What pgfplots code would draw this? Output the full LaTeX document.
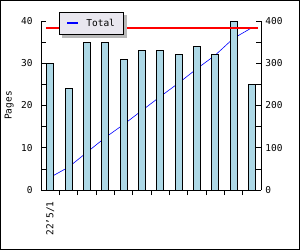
\documentclass[border=0pt]{standalone}
\usepackage{pgfplots}
\pgfplotsset{compat=1.18}
\usepackage{fontspec}
\setmainfont{DejaVu Sans Mono}
\definecolor{barfill}{HTML}{ADD8E6}
\definecolor{legfill}{HTML}{E9E7EF}
\definecolor{gridc}{HTML}{DDDDDD}
\pgfplotstableread{
x pages total
0 30 30
1 24 54
2 35 89
3 35 124
4 31 155
5 33 188
6 33 221
7 32 253
8 34 287
9 32 319
10 40 359
11 25 384
}\datatable
\newcommand{\legline}{\textcolor{blue}{\rule[0.28em]{11pt}{1.8pt}}\hspace{8pt}}
\begin{document}
\fontsize{9.5}{11}\selectfont
\begin{tikzpicture}[x=1pt,y=1pt]
\fill[white] (0,0) rectangle (300,250);
\useasboundingbox (0,0) rectangle (300,250);
\pgfplotsset{
  every axis/.style={
    scale only axis, width=220pt, height=169pt,
    at={(41pt,60pt)}, anchor=south west,
    xmin=-0.5, xmax=11.5,
    tick style={black, line width=0.6pt},
    tick align=inside,
    /pgf/number format/assume math mode=true,
    tick label style={font=\fontsize{9.5}{11}\selectfont},
  },
  mylegend/.style={
    legend style={at={(axis description cs:0.0818,1.0515)}, anchor=north west,
      inner xsep=6pt, inner ysep=4.5pt,
      font=\fontsize{9.5}{11}\selectfont},
    legend cell align=left,
    legend image code/.code={},
  },
}
% Axis 1: right scale, grid and blue line (behind bars)
\begin{axis}[
  ymin=0, ymax=400,
  axis lines=none,
  ytick={100,200,300,400},
  ymajorgrids, grid style={gridc, line width=0.6pt},
  xtick=\empty,
  clip=false,
]
\addplot[blue, line width=0.6pt, mark=none] table[x=x, y=total] {\datatable};
\end{axis}
% Axis 2: left scale, bars
\begin{axis}[
  ymin=0, ymax=40,
  axis x line*=bottom, axis y line*=left,
  axis line style={black, line width=0.7pt, -},
  ytick={0,10,20,30,40},
  minor ytick={5,15,25,35},
  minor tick length=5pt, major tick length=5pt,
  yticklabel style={xshift=-5pt},
  xtick={0.5,1.5,...,10.5},
  xticklabels={},
  extra x ticks={0},
  extra x tick labels={22'5/1},
  extra x tick style={major tick length=0pt, tick label style={rotate=90, anchor=east, xshift=-8pt}},
  ylabel={Pages},
  ylabel style={at={(axis description cs:-0.145,0.5)}, anchor=center, font=\fontsize{9.5}{11}\selectfont},
  ybar, bar width=7pt, bar shift=0pt,
]
\addplot[fill=barfill, draw=black, line width=0.7pt] table[x=x, y=pages] {\datatable};
\end{axis}
% Axis 3: right scale, red line, right axis, legend shadow
\begin{axis}[
  ymin=0, ymax=400,
  axis x line=none, axis y line*=right,
  axis line style={black, line width=0.7pt, -},
  ytick={0,100,200,300,400},
  minor ytick={50,150,250,350},
  minor tick length=5pt, major tick length=5pt,
  yticklabel style={xshift=1pt},
  xtick=\empty,
  clip=false,
  mylegend,
  legend style={fill=gray!55, draw=gray!55, line width=0.7pt, xshift=3pt, yshift=-3pt},
]
\addplot[red, line width=2pt, mark=none, forget plot] coordinates {(-0.23,384) (11.35,384)};
\addlegendimage{gray}
\addlegendentry{\phantom{\legline Total}}
\end{axis}
% Axis 4: legend
\begin{axis}[
  ymin=0, ymax=400,
  axis lines=none, xtick=\empty, ytick=\empty,
  mylegend,
  legend style={fill=legfill, draw=black, line width=0.7pt},
]
\addlegendimage{blue}
\addlegendentry{\legline Total}
\end{axis}
\draw[black, line width=1pt] (0.5,0.5) rectangle (299.5,249.5);
\end{tikzpicture}
\end{document}
